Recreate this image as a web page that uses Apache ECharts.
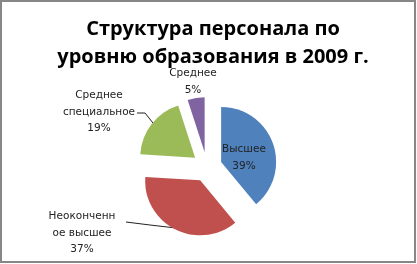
<!DOCTYPE html>
<html>
<head>
<meta charset="utf-8">
<script src="https://cdn.jsdelivr.net/npm/echarts@6/dist/echarts.min.js"></script>
<style>
  html, body { margin: 0; padding: 0; background: #fff; }
  #chart { width: 417px; height: 264px; }
</style>
</head>
<body>
<div id="chart"></div>
<script>
// Staff structure by education level, 2009
const titleLines = ['Структура персонала по', 'уровню образования в 2009 г.'];
const categories = ['Высшее', 'Неоконченное высшее', 'Среднее специальное', 'Среднее'];
const shares = [39, 37, 19, 5];
const labelText = ['Высшее', 'Неоконченн\nое высшее', 'Среднее\nспециальное', 'Среднее'];
const colors = ['#4F81BD', '#C0504D', '#9BBB59', '#8064A2'];

// pie geometry: every slice is pulled out from the common centre
const pieCenter = [207, 167];
const pieRadius = 55;
const explode = 15;

// label anchor (centre of text block) and leader line per slice
const labelSpots = [
  { x: 244, y: 158, line: null },
  { x: 82, y: 233, line: [[126, 222], [150, 225], [176, 228]] },
  { x: 99, y: 112, line: [[137, 113], [145, 113], [153, 123]] },
  { x: 193, y: 82, line: null }
];

const total = shares.reduce((a, b) => a + b, 0);
let before = 0;
const midAngles = shares.map(v => {
  const a = (before + v / 2) / total * 2 * Math.PI; // clockwise from 12 o'clock
  before += v;
  return a;
});

const labelFont = {
  fontFamily: 'DejaVu Sans',
  fontSize: 10.5,
  lineHeight: 16.5,
  color: '#222',
  align: 'center'
};

// one pie per slice, all sharing the same angles; only slice k is painted
const series = categories.map((_, k) => ({
  type: 'pie',
  center: [
    pieCenter[0] + explode * Math.sin(midAngles[k]),
    pieCenter[1] - explode * Math.cos(midAngles[k])
  ],
  radius: [0, pieRadius],
  startAngle: 90,
  clockwise: true,
  silent: true,
  emphasis: { disabled: true },
  z: 2,
  data: categories.map((name, i) => ({
    name: name,
    value: shares[i],
    itemStyle: { color: i === k ? colors[i] : 'rgba(0,0,0,0)', borderWidth: 0 },
    label: i === k
      ? Object.assign({ show: true, formatter: () => labelText[i] + '\n' + shares[i] + '%' }, labelFont)
      : { show: false },
    labelLine: { show: i === k && !!labelSpots[i].line, lineStyle: { color: '#222', width: 1 } }
  })),
  labelLayout: function (p) {
    if (p.dataIndex !== k) return {};
    const s = labelSpots[k];
    const out = { x: s.x, y: s.y, align: 'center', verticalAlign: 'middle', hideOverlap: false };
    if (s.line) out.labelLinePoints = s.line;
    return out;
  }
}));

const chart = echarts.init(document.getElementById('chart'), null, { renderer: 'canvas' });

chart.setOption({
  animation: false,
  backgroundColor: '#fff',
  title: {
    text: titleLines.join('\n'),
    left: 208,
    top: 10,
    textAlign: 'center',
    textStyle: {
      fontFamily: 'Open Sans',
      fontWeight: 'bold',
      fontSize: 20,
      lineHeight: 28,
      color: '#000'
    }
  },
  graphic: [{
    type: 'rect',
    shape: { x: 1, y: 1, width: 414, height: 261 },
    style: { fill: null, stroke: '#878787', lineWidth: 2 },
    silent: true,
    z: 100
  }],
  series: series
});
</script>
</body>
</html>
